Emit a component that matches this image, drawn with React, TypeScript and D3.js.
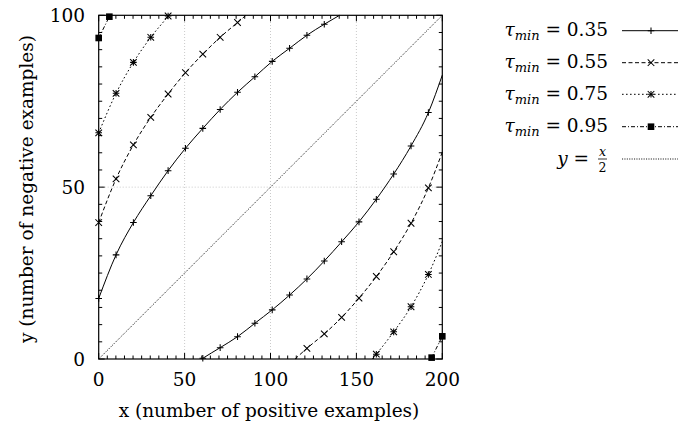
import React from 'react';
import * as d3 from 'd3';

type Pt = [number, number];

// Axis ticks (x: positive examples, y: negative examples)
const X_TICKS = [0, 50, 100, 150, 200];
const Y_TICKS = [0, 50, 100];

// Threshold levels shown in the legend
const TAU_LABELS = ['0.35', '0.55', '0.75', '0.95'];

// tau_min = 0.35 : marked samples and border crossings
const T35_UPPER: Pt[] = [
  [0, 17.6], [10.1, 30.3], [20.2, 39.7], [30.3, 47.5], [40.4, 54.8], [50.5, 61.3],
  [60.6, 67.1], [70.7, 72.6], [80.8, 77.6], [90.9, 82.1], [101.0, 86.6], [111.1, 90.4],
  [121.2, 94.2], [131.3, 97.4],
];
const T35_UPPER_EDGE: Pt[] = [[140.2, 100]];
const T35_LOWER: Pt[] = [
  [60.6, 0.2], [70.7, 3.3], [80.8, 6.5], [90.9, 10.4], [101.0, 14.3], [111.1, 18.6],
  [121.2, 23.3], [131.3, 28.5], [141.4, 34.1], [151.5, 39.9], [161.6, 46.5], [171.7, 53.8],
  [181.8, 62.0], [191.9, 71.7],
];
const T35_LOWER_EDGE: Pt[] = [[60.0, 0], [200, 82.6]];

// tau_min = 0.55
const T55_UPPER: Pt[] = [
  [0, 39.7], [10.1, 52.4], [20.2, 62.3], [30.3, 70.3], [40.4, 77.1], [50.5, 83.3],
  [60.6, 88.7], [70.7, 93.6], [80.8, 97.9],
];
const T55_UPPER_EDGE: Pt[] = [[85.7, 100]];
const T55_LOWER: Pt[] = [
  [121.2, 3.1], [131.3, 7.3], [141.4, 12.1], [151.5, 17.7], [161.6, 24.0], [171.7, 31.2],
  [181.8, 39.5], [191.9, 49.8],
];
const T55_LOWER_EDGE: Pt[] = [[114.3, 0], [200, 60.2]];

// tau_min = 0.75
const T75_UPPER: Pt[] = [[0, 65.8], [10.1, 77.3], [20.2, 86.3], [30.3, 93.6], [40.4, 99.8]];
const T75_UPPER_EDGE: Pt[] = [[40.7, 100]];
const T75_LOWER: Pt[] = [[161.6, 1.4], [171.7, 7.9], [181.8, 15.2], [191.9, 24.6]];
const T75_LOWER_EDGE: Pt[] = [[159.3, 0], [200, 34.2]];

// tau_min = 0.95
const T95_UPPER: Pt[] = [[0, 93.4], [6.2, 99.6]];
const T95_UPPER_EDGE: Pt[] = [[6.6, 100]];
const T95_LOWER: Pt[] = [[193.8, 0.4], [200, 6.6]];
const T95_LOWER_EDGE: Pt[] = [];

// reference line y = x/2
const DIAGONAL: Pt[] = [[0, 0], [200, 100]];

const SERIES = [
  { label: TAU_LABELS[0], branches: [[T35_UPPER, T35_UPPER_EDGE], [T35_LOWER, T35_LOWER_EDGE]] },
  { label: TAU_LABELS[1], branches: [[T55_UPPER, T55_UPPER_EDGE], [T55_LOWER, T55_LOWER_EDGE]] },
  { label: TAU_LABELS[2], branches: [[T75_UPPER, T75_UPPER_EDGE], [T75_LOWER, T75_LOWER_EDGE]] },
  { label: TAU_LABELS[3], branches: [[T95_UPPER, T95_UPPER_EDGE], [T95_LOWER, T95_LOWER_EDGE]] },
];

type MarkKind = 'plus' | 'cross' | 'star' | 'square';
const STYLE: Record<string, { dash: string | undefined; mark: MarkKind }> = {
  '0.35': { dash: undefined, mark: 'plus' },
  '0.55': { dash: '4,2.5', mark: 'cross' },
  '0.75': { dash: '1.6,2.4', mark: 'star' },
  '0.95': { dash: '4,2,1,2', mark: 'square' },
};

const FONT = 'DejaVu Serif';
const DIAG_COLOR = '#1a1a1a';
const DIAG_DASH = '1.1,1.3';

function Marker({ kind, cx, cy }: { kind: MarkKind; cx: number; cy: number }) {
  const r = 3.3;
  const plus = <path d={`M${cx - r},${cy}H${cx + r}M${cx},${cy - r}V${cy + r}`} />;
  const cross = <path d={`M${cx - r},${cy - r}L${cx + r},${cy + r}M${cx - r},${cy + r}L${cx + r},${cy - r}`} />;
  if (kind === 'square') {
    return <rect x={cx - 3.3} y={cy - 3.3} width={6.6} height={6.6} fill="#000" stroke="none" />;
  }
  return (
    <g stroke="#000" strokeWidth={1.05} fill="none">
      {(kind === 'plus' || kind === 'star') && plus}
      {(kind === 'cross' || kind === 'star') && cross}
    </g>
  );
}

export default function App() {
  const W = 678;
  const H = 431;
  const left = 98.7, right = 442.3, top = 15.3, bottom = 359;

  const x = d3.scaleLinear().domain([0, 200]).range([left, right]);
  const y = d3.scaleLinear().domain([0, 100]).range([bottom, top]);
  const line = d3
    .line<Pt>()
    .x((d) => x(d[0]))
    .y((d) => y(d[1]))
    .curve(d3.curveMonotoneX);

  const xMinor = d3.range(0, 201, 5);
  const yMinor = d3.range(0, 101, 5);

  const legendRows = [30.7, 62.7, 94.3, 126.7];
  const legendTextX = 608;
  const sampleX0 = 622;
  const sampleX1 = 680;
  const sampleMark = 651;

  return (
    <svg
      width={W}
      height={H}
      viewBox={`0 0 ${W} ${H}`}
      style={{ position: 'absolute', left: 0, top: 0, background: '#fff' }}
      fontFamily={FONT}
    >
      <rect x={0} y={0} width={W} height={H} fill="#fff" />

      {/* grid */}
      <g stroke="#bdbdbd" strokeWidth={0.8} strokeDasharray="1,2">
        {X_TICKS.filter((t) => t > 0 && t < 200).map((t) => (
          <line key={`gx${t}`} x1={x(t)} x2={x(t)} y1={y(0)} y2={y(100)} />
        ))}
        {Y_TICKS.filter((t) => t > 0 && t < 100).map((t) => (
          <line key={`gy${t}`} x1={x(0)} x2={x(200)} y1={y(t)} y2={y(t)} />
        ))}
      </g>

      {/* y = x/2 */}
      <path d={line(DIAGONAL) ?? ''} stroke={DIAG_COLOR} strokeWidth={1} strokeDasharray={DIAG_DASH} fill="none" />

      {/* contour curves */}
      {SERIES.map((s) => (
        <g key={s.label}>
          {s.branches.map(([marks, edges], i) => {
            const pts = [...marks, ...edges].sort((a, b) => a[0] - b[0]);
            return (
              <path
                key={i}
                d={line(pts) ?? ''}
                fill="none"
                stroke="#000"
                strokeWidth={1}
                strokeDasharray={STYLE[s.label].dash}
              />
            );
          })}
          {s.branches.map(([marks], i) =>
            marks.map((p, j) => (
              <Marker key={`${i}-${j}`} kind={STYLE[s.label].mark} cx={x(p[0])} cy={y(p[1])} />
            ))
          )}
        </g>
      ))}

      {/* ticks */}
      <g stroke="#000" strokeWidth={1}>
        {xMinor.map((t) => {
          const len = t % 50 === 0 ? 6 : 3.5;
          return (
            <g key={`tx${t}`}>
              <line x1={x(t)} x2={x(t)} y1={bottom} y2={bottom - len} />
              <line x1={x(t)} x2={x(t)} y1={top} y2={top + len} />
            </g>
          );
        })}
        {yMinor.map((t) => {
          const len = t % 50 === 0 ? 6 : 3.5;
          return (
            <g key={`ty${t}`}>
              <line x1={left} x2={left + len} y1={y(t)} y2={y(t)} />
              <line x1={right} x2={right - len} y1={y(t)} y2={y(t)} />
            </g>
          );
        })}
      </g>

      {/* frame */}
      <rect x={left} y={top} width={right - left} height={bottom - top} fill="none" stroke="#000" strokeWidth={1.2} />

      {/* tick labels */}
      <g fontSize={18.5} fill="#000">
        {X_TICKS.map((t) => (
          <text key={`lx${t}`} x={x(t)} y={386} textAnchor="middle">
            {t}
          </text>
        ))}
        {Y_TICKS.map((t) => (
          <text key={`ly${t}`} x={85} y={y(t) + 6.6} textAnchor="end">
            {t}
          </text>
        ))}
      </g>

      {/* axis titles */}
      <text x={269} y={417} textAnchor="middle" fontSize={18.5}>
        x (number of positive examples)
      </text>
      <text transform="translate(33,189) rotate(-90)" textAnchor="middle" fontSize={18.5}>
        y (number of negative examples)
      </text>

      {/* legend */}
      {SERIES.map((s, i) => {
        const ry = legendRows[i];
        return (
          <g key={`lg${s.label}`}>
            <text x={legendTextX} y={ry + 5.5} textAnchor="end" fontSize={18.5}>
              <tspan fontStyle="italic">τ</tspan>
              <tspan fontStyle="italic" fontSize={13} dy={4}>
                min
              </tspan>
              <tspan dy={-4}>{` = ${s.label}`}</tspan>
            </text>
            <line
              x1={sampleX0}
              x2={sampleX1}
              y1={ry}
              y2={ry}
              stroke="#000"
              strokeWidth={1}
              strokeDasharray={STYLE[s.label].dash}
            />
            <Marker kind={STYLE[s.label].mark} cx={sampleMark} cy={ry} />
          </g>
        );
      })}
      <g>
        <text x={589} y={164.5} textAnchor="end" fontSize={18.5}>
          <tspan fontStyle="italic">y</tspan>
          <tspan>{' ='}</tspan>
        </text>
        <text x={602.5} y={155.5} textAnchor="middle" fontSize={12.5} fontStyle="italic">
          x
        </text>
        <line x1={598} x2={607} y1={159} y2={159} stroke="#000" strokeWidth={0.8} />
        <text x={602.5} y={172} textAnchor="middle" fontSize={12.5}>
          2
        </text>
        <line x1={sampleX0} x2={sampleX1} y1={159} y2={159} stroke={DIAG_COLOR} strokeWidth={1} strokeDasharray={DIAG_DASH} />
      </g>
    </svg>
  );
}
